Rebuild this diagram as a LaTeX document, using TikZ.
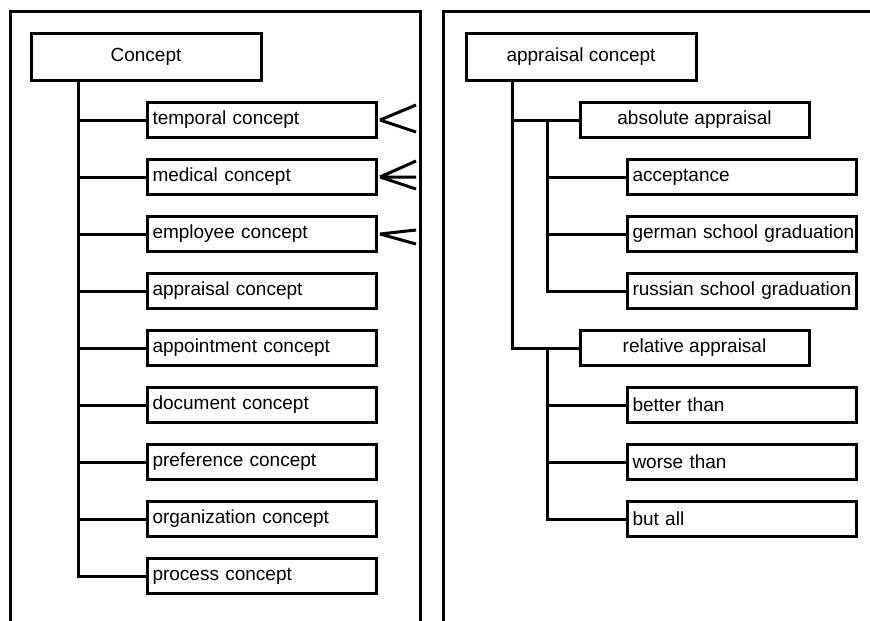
\documentclass[tikz,border=0pt]{standalone}
\usepackage{fontspec}
\setmainfont{Liberation Sans}
\begin{document}
\begin{tikzpicture}[x=1pt,y=-1pt,line width=3pt,font=\fontsize{19}{23}\selectfont,
	topbox/.style={draw, minimum width=230, minimum height=47, inner sep=0},
	midbox/.style={draw, minimum width=229, minimum height=35, inner sep=0},
	leafbox/.style={draw, anchor=west, text width=219, align=left, inner xsep=5, inner ysep=0, minimum height=35,
		execute at begin node=\hbox\bgroup, execute at end node=\egroup}]
	\useasboundingbox (0,0) rectangle (870,621);
	
	% Panels
	\draw (10,625) |- (420,11) -- (420,625);
	\draw (443,625) |- (875,11);
	
	% Left tree
	\node[topbox] (concept) at (146,56.5) {Concept};
	\node[leafbox] (temporal) at (146,120) {temporal concept};
	\node[leafbox] (medical) at (146,177) {medical concept};
	\node[leafbox] (employee) at (146,234) {employee concept};
	\node[leafbox] (appraisal) at (146,291) {appraisal concept};
	\node[leafbox] (appointment) at (146,348) {appointment concept};
	\node[leafbox] (document) at (146,405) {document concept};
	\node[leafbox] (preference) at (146,462) {preference concept};
	\node[leafbox] (organization) at (146,519) {organization concept};
	\node[leafbox] (process) at (146,576) {process concept};
	
	\coordinate (ctrunk) at ([xshift=-68pt]concept.south);
	\draw (ctrunk) |- (process.west);
	\draw (ctrunk |- temporal.west) -- (temporal.west);
	\draw (ctrunk |- medical.west) -- (medical.west);
	\draw (ctrunk |- employee.west) -- (employee.west);
	\draw (ctrunk |- appraisal.west) -- (appraisal.west);
	\draw (ctrunk |- appointment.west) -- (appointment.west);
	\draw (ctrunk |- document.west) -- (document.west);
	\draw (ctrunk |- preference.west) -- (preference.west);
	\draw (ctrunk |- organization.west) -- (organization.west);
	
	% Crow feet
	\coordinate (tfoot) at ([xshift=2pt]temporal.east);
	\draw (tfoot) -- ++(36,-15) (tfoot) -- ++(36,12);
	\coordinate (mfoot) at ([xshift=2pt]medical.east);
	\draw (mfoot) -- ++(36,-16) (mfoot) -- ++(36,0) (mfoot) -- ++(36,12);
	\coordinate (efoot) at ([xshift=2pt]employee.east);
	\draw (efoot) -- ++(36,-4) (efoot) -- ++(36,10);
	
	% Right tree
	\node[topbox] (apprconcept) at (581,56.5) {appraisal concept};
	\node[midbox] (absolute) at (694.5,120) {absolute appraisal};
	\node[leafbox] (acceptance) at (626,177) {acceptance};
	\node[leafbox] (german) at (626,234) {german school graduation};
	\node[leafbox] (russian) at (626,291) {russian school graduation};
	\node[midbox] (relative) at (694.5,348) {relative appraisal};
	\node[leafbox] (better) at (626,405) {better than};
	\node[leafbox] (worse) at (626,462) {worse than};
	\node[leafbox] (butall) at (626,519) {but all};
	
	\coordinate (atrunk) at ([xshift=-69pt]apprconcept.south);
	\draw (atrunk) |- (relative.west);
	\draw (atrunk |- absolute.west) -- (absolute.west);
	
	\coordinate (abtrunk) at (547,120);
	\draw (abtrunk) |- (russian.west);
	\draw (abtrunk |- acceptance.west) -- (acceptance.west);
	\draw (abtrunk |- german.west) -- (german.west);
	
	\coordinate (retrunk) at (547,348);
	\draw (retrunk) |- (butall.west);
	\draw (retrunk |- better.west) -- (better.west);
	\draw (retrunk |- worse.west) -- (worse.west);
\end{tikzpicture}
\end{document}
